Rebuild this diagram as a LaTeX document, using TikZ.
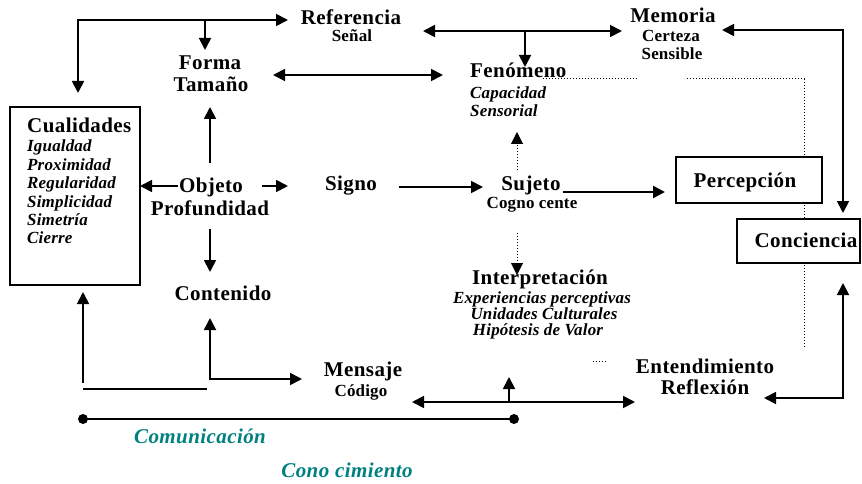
\documentclass[tikz,border=0pt]{standalone}
\usepackage{fontspec}
\usetikzlibrary{arrows.meta}
\newfontfamily\serifsp[LetterSpace=2]{Liberation Serif}
\newfontfamily\serifit[LetterSpace=1]{Liberation Serif}
\definecolor{tealtxt}{RGB}{0,128,128}
\tikzset{
  lbl/.style={inner sep=0pt, anchor=base, font={\serifsp\bfseries\fontsize{21}{24}\selectfont}},
  sub/.style={inner sep=0pt, anchor=base, font={\serifit\bfseries\fontsize{17}{20}\selectfont}},
  itl/.style={inner sep=0pt, anchor=base, font={\serifit\bfseries\itshape\fontsize{17}{20}\selectfont}},
  tealt/.style={inner sep=0pt, anchor=base, text=tealtxt, font={\serifsp\bfseries\itshape\fontsize{21}{24}\selectfont}},
  conn/.style={line width=1.8pt},
  tip/.style={-{Triangle[length=12pt,width=12pt]}},
  tips/.style={{Triangle[length=12pt,width=12pt]}-{Triangle[length=12pt,width=12pt]}},
  dots/.style={line width=1pt, dotted},
  boxs/.style={draw, line width=1.6pt, fill=white}
}
\begin{document}
\begin{tikzpicture}[x=1pt,y=-1pt]
\useasboundingbox (0,0) rectangle (862,484);
% dotted lines (behind boxes)
\coordinate (fendot) at (543,79);
\coordinate (fendotb) at (637,79);
\coordinate (dotc) at (687,79);
\coordinate (dotcorner) at (804,79);
\coordinate (dotend) at (804,348);
\draw[dots] (fendot) -- (fendotb);
\draw[dots] (dotc) -- (dotcorner) -- (dotend);
\coordinate (smd1) at (593,361);
\coordinate (smd2) at (608,361);
\draw[dots] (smd1) -- (smd2);

% boxes
\node[boxs, minimum width=130pt, minimum height=178pt, inner sep=0pt] (cualbox) at (75,196) {};
\node[boxs, minimum width=146pt, minimum height=46pt, inner sep=0pt] (percbox) at (749,180) {};
\node[boxs, minimum width=123pt, minimum height=44pt, inner sep=0pt] (concbox) at (798.5,241) {};

% texts
\node[lbl] (ref) at (351,25) {Referencia};
\node[sub] (refs) at (352,42) {Señal};
\node[lbl] (mem) at (673,23) {Memoria};
\node[sub] (mem2) at (671,42) {Certeza};
\node[sub] (mem3) at (672,60) {Sensible};
\node[lbl] (forma) at (210,70) {Forma};
\node[lbl] (tam) at (211,92) {Tamaño};
\node[lbl, anchor=base west] (fen) at (470,78) {Fenómeno};
\node[itl, anchor=base west] (fen2) at (470,99) {Capacidad};
\node[itl, anchor=base west] (fen3) at (470,117) {Sensorial};
\node[lbl, anchor=base west] (cual) at (27,132) {Cualidades};
\node[itl, anchor=base west] (c1) at (27,152) {Igualdad};
\node[itl, anchor=base west] (c2) at (27,170) {Proximidad};
\node[itl, anchor=base west] (c3) at (27,188) {Regularidad};
\node[itl, anchor=base west] (c4) at (27,207) {Simplicidad};
\node[itl, anchor=base west] (c5) at (27,225) {Simetría};
\node[itl, anchor=base west] (c6) at (27,243) {Cierre};
\node[lbl] (obj) at (211,193) {Objeto};
\node[lbl] (prof) at (210,215) {Profundidad};
\node[lbl] (signo) at (351,190) {Signo};
\node[lbl] (suj) at (531,190) {Sujeto};
\node[sub] (cogn) at (532,208) {Cogno cente};
\node[lbl] (perc) at (745,187) {Percepción};
\node[lbl] (conc) at (806,247) {Conciencia};
\node[lbl] (cont) at (223,300) {Contenido};
\node[lbl] (interp) at (540,284) {Interpretación};
\node[itl] (i1) at (542,303) {Experiencias perceptivas};
\node[itl] (i2) at (544,319) {Unidades Culturales};
\node[itl] (i3) at (538,335) {Hipótesis de Valor};
\node[lbl] (mens) at (363,376) {Mensaje};
\node[sub] (cod) at (361,396) {Código};
\node[lbl] (ent) at (705,373) {Entendimiento};
\node[lbl] (refl) at (705,394) {Reflexión};
\node[tealt] (comu) at (200,443) {Comunicación};
\node[tealt] (cono) at (347,477) {Cono cimiento};

% connectors
\coordinate (a1) at (78,93);
\coordinate (a2) at (288,20);
\coordinate (a3) at (205,20);
\coordinate (a4) at (205,50);
\draw[conn,tips] (a1) |- (a2);
\draw[conn,tip] (a3) -- (a4);

\coordinate (b1) at (423,31);
\coordinate (b2) at (622,31);
\coordinate (b3) at (525,31);
\coordinate (b4) at (525,67);
\draw[conn,tips] (b1) -- (b2);
\draw[conn,tip] (b3) -- (b4);

\coordinate (m1) at (722,30);
\coordinate (m2) at (843,213);
\draw[conn,tips] (m1) -| (m2);

\coordinate (f1) at (273,75);
\coordinate (f2) at (443,75);
\draw[conn,tips] (f1) -- (f2);

\coordinate (o1) at (210,163);
\coordinate (o2) at (210,107);
\draw[conn,tip] (o1) -- (o2);
\coordinate (o3) at (210,229);
\coordinate (o4) at (210,272);
\draw[conn,tip] (o3) -- (o4);
\coordinate (o5) at (178,186);
\coordinate (o6) at (140,186);
\draw[conn,tip] (o5) -- (o6);
\coordinate (o7) at (262,186);
\coordinate (o8) at (288,186);
\draw[conn,tip] (o7) -- (o8);

\coordinate (s1) at (399,187);
\coordinate (s2) at (483,187);
\draw[conn,tip] (s1) -- (s2);
\coordinate (s3) at (563,192);
\coordinate (s4) at (665,192);
\draw[line width=2.3pt,tip] (s3) -- (s4);

\coordinate (d1) at (517,170);
\coordinate (d2) at (517,132);
\draw[dots,-{Triangle[length=12pt,width=12pt]}] (d1) -- (d2);
\coordinate (d3) at (517,233);
\coordinate (d4) at (517,275);
\draw[dots,-{Triangle[length=12pt,width=12pt]}] (d3) -- (d4);

\coordinate (e1) at (764,398);
\coordinate (e2) at (843,283);
\draw[conn,tips] (e1) -| (e2);

\coordinate (g1) at (412,402);
\coordinate (g2) at (635,402);
\draw[conn,tips] (g1) -- (g2);
\coordinate (g3) at (509,402);
\coordinate (g4) at (509,377);
\draw[conn,tip] (g3) -- (g4);

\coordinate (h1) at (210,318);
\coordinate (h2) at (302,379);
\draw[conn,tips] (h1) |- (h2);

\coordinate (k1) at (83,383);
\coordinate (k2) at (83,292);
\draw[conn,tip] (k1) -- (k2);
\coordinate (k3) at (83,389);
\coordinate (k4) at (207,389);
\draw[line width=1.2pt] (k3) -- (k4);

\coordinate (l1) at (83,419);
\coordinate (l2) at (514,419);
\draw[line width=1.5pt] (l1) -- (l2);
\fill (l1) circle (5pt);
\fill (l2) circle (5pt);
\end{tikzpicture}
\end{document}
